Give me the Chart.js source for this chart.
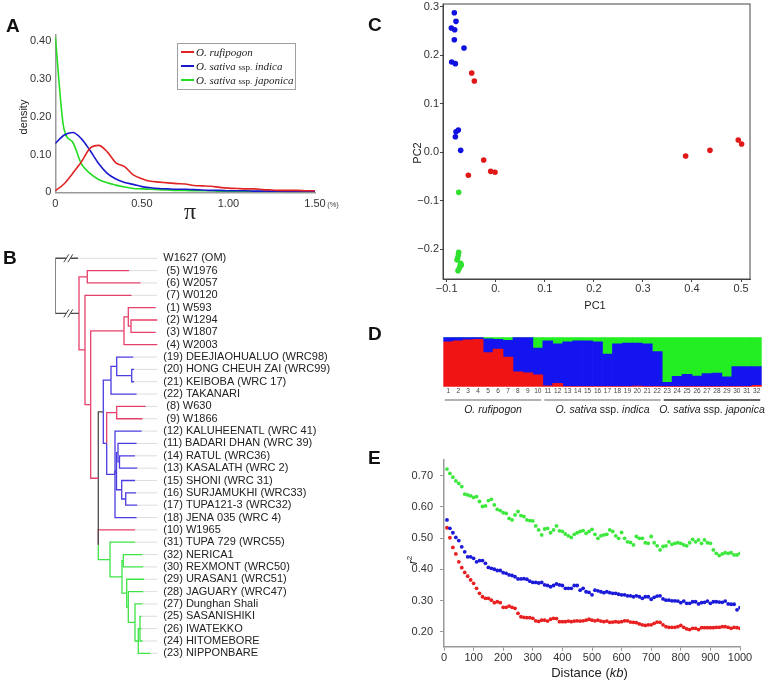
<!DOCTYPE html>
<html>
<head>
<meta charset="utf-8">
<title>Rice diversity figure</title>
<script src="https://cdn.jsdelivr.net/npm/chart.js@4.4.1/dist/chart.umd.min.js"></script>
<style>
html, body { margin: 0; padding: 0; background: #fff; }
#fig { position: relative; width: 767px; height: 682px; overflow: hidden; font-family: "Liberation Sans", Arial, Helvetica, sans-serif; color: #222; }
.panel { position: absolute; }
.letter { position: absolute; font-weight: bold; font-size: 19px; line-height: 1; color: #111; }
.lab { position: absolute; white-space: nowrap; line-height: 1; transform: translate(-50%, -50%); }
.lab.rot { transform: translate(-50%, -50%) rotate(-90deg); }
#legA { position: absolute; left: 177px; top: 43px; width: 117px; height: 45px; border: 1px solid #a0a0a0; font-family: "Liberation Serif", "Times New Roman", serif; font-size: 11px; color: #222; }
#legA .row { position: absolute; left: 3px; height: 12px; display: flex; align-items: center; white-space: nowrap; transform: translateY(-50%); }
#legA .sw { display: block; flex: none; width: 13px; height: 2px; margin-right: 2px; }
#legA .ssp { font-size: 9px; font-style: normal; }
</style>
</head>
<body>
<div id="fig">
  <div class="panel" style="left:0;top:25px;width:340px;height:200px"><canvas id="chartA"></canvas></div>
  <div class="panel" style="left:0;top:240px;width:380px;height:430px"><canvas id="chartB"></canvas></div>
  <div class="panel" style="left:380px;top:0;width:387px;height:320px"><canvas id="chartC"></canvas></div>
  <div class="panel" style="left:380px;top:325px;width:387px;height:95px"><canvas id="chartD"></canvas></div>
  <div class="panel" style="left:380px;top:440px;width:387px;height:242px"><canvas id="chartE"></canvas></div>

  <div class="letter" style="left:6px;top:15.5px">A</div>
  <div class="letter" style="left:3px;top:247.5px">B</div>
  <div class="letter" style="left:368px;top:14.5px">C</div>
  <div class="letter" style="left:368px;top:323.5px">D</div>
  <div class="letter" style="left:368px;top:447.5px">E</div>

  <!-- panel A texts -->
  <div class="lab rot" style="left:22.5px;top:117px;font-size:11px">density</div>
  <div class="lab" style="left:190px;top:210.5px;font-size:24px;font-family:'Liberation Serif','Times New Roman',serif">π</div>
  <div class="lab" style="left:333px;top:205px;font-size:7.5px;color:#444">(%)</div>
  <div id="legA">
    <div class="row" style="top:7.7px"><span class="sw" style="background:#e02424"></span><span><i>O. rufipogon</i></span></div>
    <div class="row" style="top:21.7px"><span class="sw" style="background:#1a1acc"></span><span><i>O. sativa</i> <span class="ssp">ssp.</span> <i>indica</i></span></div>
    <div class="row" style="top:36px"><span class="sw" style="background:#22dd22"></span><span><i>O. sativa</i> <span class="ssp">ssp.</span> <i>japonica</i></span></div>
  </div>

  <!-- panel C texts -->
  <div class="lab rot" style="left:417px;top:153px;font-size:11px">PC2</div>
  <div class="lab" style="left:595px;top:305px;font-size:11px">PC1</div>

  <!-- panel E texts -->
  <div class="lab rot" style="left:412px;top:560px;font-size:12px"><i>r</i><sup style="font-size:8px">2</sup></div>
  <div class="lab" style="left:589.5px;top:672px;font-size:13px">Distance (<i>kb</i>)</div>
</div>

<script>
// ---------- data ----------
// A: nucleotide diversity density
const piX = [0, 0.05, 0.10, 0.15, 0.20, 0.25, 0.30, 0.35, 0.40, 0.45, 0.50, 0.55, 0.60, 0.65, 0.70, 0.75,
  0.80, 0.85, 0.90, 0.95, 1.00, 1.05, 1.10, 1.15, 1.20, 1.25, 1.30, 1.35, 1.40, 1.45, 1.50];
const densRufipogon = [0.004, 0.022, 0.050, 0.080, 0.116, 0.124, 0.107, 0.078, 0.068, 0.046, 0.036, 0.029, 0.027, 0.025, 0.023, 0.022,
  0.018, 0.017, 0.016, 0.013, 0.011, 0.010, 0.009, 0.009, 0.007, 0.006, 0.005, 0.005, 0.005, 0.004, 0.004];
const densIndica = [0.129, 0.151, 0.158, 0.142, 0.111, 0.076, 0.050, 0.035, 0.026, 0.021, 0.015, 0.012, 0.010, 0.009, 0.008, 0.008,
  0.007, 0.006, 0.005, 0.005, 0.004, 0.004, 0.004, 0.003, 0.003, 0.003, 0.003, 0.002, 0.002, 0.002, 0.002];
const densJaponica = [0.411, 0.168, 0.133, 0.076, 0.050, 0.034, 0.025, 0.019, 0.014, 0.010, 0.009, 0.008, 0.007, 0.006, 0.005, 0.005,
  0.004, 0.004, 0.004, 0.003, 0.003, 0.003, 0.003, 0.002, 0.002, 0.002, 0.002, 0.002, 0.002, 0.002, 0.002];
const aTicksX = [0, 0.5, 1.0, 1.5];
const aLabelsX = ['0', '0.50', '1.00', '1.50'];
const aTicksY = [0, 0.1, 0.2, 0.3, 0.4];
const aLabelsY = ['0', '0.10', '0.20', '0.30', '0.40'];

// B: neighbour-joining tree
const leafNames = ['W1627 (OM)', ' (5) W1976', ' (6) W2057', ' (7) W0120', ' (1) W593', ' (2) W1294', ' (3) W1807', ' (4) W2003',
  '(19) DEEJIAOHUALUO (WRC98)', '(20) HONG CHEUH ZAI (WRC99)', '(21) KEIBOBA (WRC 17)', '(22) TAKANARI',
  ' (8) W630', ' (9) W1866', '(12) KALUHEENATL (WRC 41)', '(11) BADARI DHAN (WRC 39)', '(14) RATUL (WRC36)',
  '(13) KASALATH (WRC 2)', '(15) SHONI (WRC 31)', '(16) SURJAMUKHI (WRC33)', '(17) TUPA121-3 (WRC32)',
  '(18) JENA 035 (WRC 4)', '(10) W1965', '(31) TUPA 729 (WRC55)', '(32) NERICA1', '(30) REXMONT (WRC50)',
  '(29) URASAN1 (WRC51)', '(28) JAGUARY (WRC47)', '(27) Dunghan Shali', '(25) SASANISHIKI', '(26) IWATEKKO',
  '(24) HITOMEBORE', '(23) NIPPONBARE'];
const leafTip = [0.0227, 0.0737, 0.0854, 0.0764, 0.1004, 0.1047, 0.1004, 0.1047,
  0.0780, 0.0787, 0.0787, 0.0814, 0.0904, 0.0874, 0.0864, 0.0814, 0.0797, 0.0820, 0.0797, 0.0807, 0.0820, 0.0814,
  0.0797, 0.0797, 0.0874, 0.0880, 0.0890, 0.0880, 0.0874, 0.0864, 0.0864, 0.0874, 0.0954];
const leafGroup = ['o', 'r', 'r', 'r', 'r', 'r', 'r', 'r', 'b', 'b', 'b', 'b', 'r', 'r', 'b', 'b', 'b', 'b', 'b', 'b', 'b', 'b',
  'r', 'g', 'g', 'g', 'g', 'g', 'g', 'g', 'g', 'g', 'g'];
// [id, depth, group of the branch above, children]
const treeNodes = [
  ['root', 0, 'o', [0, 'P1']],
  ['P1', 0.0237, 'o', ['C56', 'P2']],
  ['C56', 0.0320, 'r', [1, 2]],
  ['P2', 0.0297, 'r', [3, 'P3']],
  ['P3', 0.0354, 'r', ['C1234', 'K']],
  ['C1234', 0.0687, 'r', ['C123', 7]],
  ['C123', 0.0730, 'r', [4, 'C23']],
  ['C23', 0.0757, 'r', [5, 6]],
  ['K', 0.0430, 'r', ['B0', 'L']],
  ['B0', 0.0480, 'o', ['I1', 'Z']],
  ['I1', 0.0557, 'b', ['I2', 11]],
  ['I2', 0.0614, 'b', [8, 'I3']],
  ['I3', 0.0764, 'b', [9, 10]],
  ['Z', 0.0514, 'b', ['C89', 'B1']],
  ['C89', 0.0614, 'r', [12, 13]],
  ['B1', 0.0597, 'b', [14, 'B2', 21]],
  ['B2', 0.0612, 'b', ['B3', 'B4']],
  ['B3', 0.0627, 'b', [15, 'B3b']],
  ['B3b', 0.0642, 'b', [16, 17]],
  ['B4', 0.0664, 'b', [18, 'B5']],
  ['B5', 0.0704, 'b', [19, 20]],
  ['L', 0.0430, 'o', [22, 'G1']],
  ['G1', 0.0547, 'g', [23, 'G2']],
  ['G2', 0.0667, 'g', ['G2a', 'G3']],
  ['G2a', 0.0680, 'g', [24, 25]],
  ['G3', 0.0714, 'g', [26, 'G4']],
  ['G4', 0.0730, 'g', [27, 'G5']],
  ['G5', 0.0797, 'g', [28, 'G6']],
  ['G6', 0.0830, 'g', ['G7', 32]],
  ['G7', 0.0847, 'g', [29, 30, 31]]
];
const treeBreakAt = 0.013;
const treeXMax = 0.102;

// C: PCA
const pc1Indica = [-0.0844, -0.0810, -0.0905, -0.0837, -0.0844, -0.0647, -0.0898, -0.0823, -0.0762, -0.0810, -0.0823, -0.0715];
const pc2Indica = [0.2876, 0.2698, 0.2560, 0.2526, 0.2320, 0.2148, 0.1860, 0.1827, 0.0459, 0.0424, 0.0321, 0.0040];
const pc1Rufi = [-0.0490, -0.0436, -0.0246, -0.0558, -0.0103, -0.0015, 0.3871, 0.4367, 0.4944, 0.5012];
const pc2Rufi = [0.1633, 0.1468, -0.0159, -0.0475, -0.0393, -0.0413, -0.0077, 0.0040, 0.0253, 0.0170];
const pc1Jap = [-0.0755, -0.0755, -0.0762, -0.0776, -0.0789, -0.0715, -0.0728, -0.0742, -0.0769, -0.0701];
const pc2Jap = [-0.0826, -0.2062, -0.2117, -0.2179, -0.2220, -0.2288, -0.2343, -0.2391, -0.2440, -0.2323];
const cTicksX = [-0.1, 0, 0.1, 0.2, 0.3, 0.4, 0.5];
const cLabelsX = ['\u22120.1', '0.', '0.1', '0.2', '0.3', '0.4', '0.5'];
const cTicksY = [-0.2, -0.1, 0, 0.1, 0.2, 0.3];
const cLabelsY = ['\u22120.2', '\u22120.1', '0.0', '0.1', '0.2', '0.3'];

// D: structure (K=3)
const dSamples = ['1', '2', '3', '4', '5', '6', '7', '8', '9', '10', '11', '12', '13', '14', '15', '16',
  '17', '18', '19', '20', '21', '22', '23', '24', '25', '26', '27', '28', '29', '30', '31', '32'];
const dRed = [0.91, 0.93, 0.95, 0.96, 0.69, 0.76, 0.60, 0.30, 0.28, 0.24, 0.02, 0.07, 0.01, 0.01, 0.01, 0.01,
  0.01, 0.01, 0.01, 0.015, 0.01, 0.01, 0.005, 0.005, 0.005, 0.005, 0.005, 0.005, 0.01, 0.01, 0.01, 0.03];
const dBlue = [0.09, 0.07, 0.05, 0.04, 0.28, 0.20, 0.34, 0.70, 0.72, 0.54, 0.91, 0.80, 0.90, 0.92, 0.92, 0.90,
  0.65, 0.86, 0.875, 0.87, 0.86, 0.70, 0.085, 0.205, 0.245, 0.21, 0.26, 0.27, 0.19, 0.395, 0.395, 0.375];
const dGreen = [0, 0, 0, 0, 0.03, 0.04, 0.06, 0, 0, 0.22, 0.07, 0.13, 0.09, 0.07, 0.07, 0.09,
  0.34, 0.13, 0.115, 0.115, 0.13, 0.29, 0.91, 0.79, 0.75, 0.785, 0.735, 0.725, 0.80, 0.595, 0.595, 0.595];
const dGroupLabels = ['O. rufipogon', 'O. sativa ssp. indica', 'O. sativa ssp. japonica'];
const dGroupEnds = [10, 22, 32];

// E: LD decay
const eDist = [10, 20, 30, 40, 50, 60, 70, 80, 90, 100, 110, 120, 130, 140, 150, 160, 170, 180, 190, 200,
  210, 220, 230, 240, 250, 260, 270, 280, 290, 300, 310, 320, 330, 340, 350, 360, 370, 380, 390, 400,
  410, 420, 430, 440, 450, 460, 470, 480, 490, 500, 510, 520, 530, 540, 550, 560, 570, 580, 590, 600,
  610, 620, 630, 640, 650, 660, 670, 680, 690, 700, 710, 720, 730, 740, 750, 760, 770, 780, 790, 800,
  810, 820, 830, 840, 850, 860, 870, 880, 890, 900, 910, 920, 930, 940, 950, 960, 970, 980, 990, 1000];
const r2Japonica = [0.721, 0.707, 0.695, 0.683, 0.675, 0.665, 0.641, 0.638, 0.635, 0.630,
  0.633, 0.617, 0.601, 0.603, 0.620, 0.624, 0.606, 0.592, 0.588, 0.581,
  0.579, 0.563, 0.558, 0.574, 0.585, 0.572, 0.569, 0.558, 0.556, 0.555,
  0.539, 0.526, 0.510, 0.529, 0.531, 0.517, 0.526, 0.539, 0.523, 0.521,
  0.513, 0.507, 0.502, 0.512, 0.517, 0.521, 0.524, 0.515, 0.521, 0.528,
  0.512, 0.499, 0.507, 0.510, 0.512, 0.526, 0.521, 0.507, 0.499, 0.518,
  0.499, 0.488, 0.486, 0.478, 0.505, 0.499, 0.499, 0.485, 0.483, 0.505,
  0.485, 0.475, 0.462, 0.473, 0.475, 0.488, 0.480, 0.483, 0.485, 0.483,
  0.478, 0.475, 0.485, 0.496, 0.488, 0.494, 0.483, 0.494, 0.485, 0.483,
  0.462, 0.451, 0.444, 0.449, 0.453, 0.451, 0.453, 0.446, 0.446, 0.451];
const r2Indica = [0.558, 0.531, 0.517, 0.502, 0.492, 0.472, 0.456, 0.440, 0.440, 0.435,
  0.424, 0.428, 0.428, 0.419, 0.406, 0.403, 0.400, 0.396, 0.396, 0.389,
  0.387, 0.382, 0.380, 0.376, 0.369, 0.369, 0.370, 0.368, 0.362, 0.358,
  0.358, 0.356, 0.358, 0.350, 0.348, 0.344, 0.348, 0.353, 0.350, 0.348,
  0.339, 0.339, 0.339, 0.348, 0.348, 0.333, 0.339, 0.328, 0.326, 0.318,
  0.333, 0.331, 0.328, 0.325, 0.328, 0.325, 0.323, 0.323, 0.320, 0.318,
  0.318, 0.315, 0.315, 0.312, 0.315, 0.312, 0.307, 0.312, 0.312, 0.304,
  0.310, 0.314, 0.315, 0.305, 0.301, 0.301, 0.299, 0.299, 0.298, 0.293,
  0.298, 0.291, 0.291, 0.296, 0.296, 0.289, 0.293, 0.294, 0.298, 0.291,
  0.296, 0.296, 0.295, 0.294, 0.298, 0.289, 0.288, 0.288, 0.270, 0.277];
const r2Rufipogon = [0.533, 0.501, 0.470, 0.449, 0.424, 0.405, 0.390, 0.378, 0.366, 0.355,
  0.339, 0.323, 0.312, 0.307, 0.307, 0.301, 0.293, 0.296, 0.293, 0.278,
  0.278, 0.282, 0.278, 0.275, 0.259, 0.248, 0.246, 0.245, 0.245, 0.243,
  0.235, 0.233, 0.237, 0.237, 0.234, 0.240, 0.243, 0.242, 0.232, 0.232,
  0.232, 0.234, 0.232, 0.234, 0.235, 0.234, 0.235, 0.237, 0.240, 0.237,
  0.235, 0.237, 0.234, 0.232, 0.234, 0.230, 0.231, 0.232, 0.231, 0.232,
  0.235, 0.235, 0.231, 0.230, 0.229, 0.225, 0.222, 0.220, 0.222, 0.222,
  0.227, 0.231, 0.230, 0.222, 0.216, 0.214, 0.214, 0.214, 0.216, 0.220,
  0.214, 0.209, 0.207, 0.211, 0.211, 0.207, 0.213, 0.213, 0.213, 0.213,
  0.213, 0.214, 0.214, 0.216, 0.216, 0.214, 0.211, 0.214, 0.213, 0.211];
const eTicksX = [0, 100, 200, 300, 400, 500, 600, 700, 800, 900, 1000];
const eLabelsX = ['0', '100', '200', '300', '400', '500', '600', '700', '800', '900', '1000'];
const eTicksY = [0.2, 0.3, 0.4, 0.5, 0.6, 0.7];
const eLabelsY = ['0.20', '0.30', '0.40', '0.50', '0.60', '0.70'];

// ---------- helpers ----------
Chart.defaults.font.family = '"Liberation Sans", Arial, Helvetica, sans-serif';
Chart.defaults.font.size = 11;
Chart.defaults.color = '#222';
Chart.defaults.animation = false;
Chart.defaults.responsive = true;
Chart.defaults.maintainAspectRatio = false;
Chart.defaults.plugins.legend.display = false;
Chart.defaults.plugins.tooltip.enabled = false;

// fixed axis thickness so the plot areas line up with the figure
function fitTo(size) {
  return function (s) {
    if (s.isHorizontal()) s.height = size; else s.width = size;
    s.paddingLeft = s.paddingRight = s.paddingTop = s.paddingBottom = 0;
  };
}
function setTicks(values) {
  return function (s) { s.ticks = values.map(v => ({ value: v })); };
}
function pairs(xs, ys) {
  return xs.map((x, i) => ({ x: x, y: ys[i] }));
}
function drawRuns(ctx, runs, cx, cy, size) {
  ctx.save();
  ctx.textBaseline = 'middle';
  ctx.textAlign = 'left';
  ctx.fillStyle = '#222';
  const fonts = runs.map(r => r[1] + ' ' + size + 'px "Liberation Sans", Arial, sans-serif');
  let w = 0;
  runs.forEach((r, i) => { ctx.font = fonts[i]; w += ctx.measureText(r[0]).width; });
  let x = cx - w / 2;
  runs.forEach((r, i) => { ctx.font = fonts[i]; ctx.fillText(r[0], x, cy); x += ctx.measureText(r[0]).width; });
  ctx.restore();
}

// ---------- A ----------
new Chart(document.getElementById('chartA'), {
  type: 'line',
  data: {
    datasets: [
      { label: 'O. rufipogon', data: pairs(piX, densRufipogon), borderColor: '#e02424' },
      { label: 'O. sativa ssp. indica', data: pairs(piX, densIndica), borderColor: '#1a1acc' },
      { label: 'O. sativa ssp. japonica', data: pairs(piX, densJaponica), borderColor: '#22dd22' }
    ]
  },
  options: {
    layout: { padding: { left: 0, top: 10, right: 25, bottom: 0 } },
    elements: { point: { radius: 0 }, line: { borderWidth: 1.6, cubicInterpolationMode: 'monotone' } },
    scales: {
      x: {
        type: 'linear', min: 0, max: 1.5,
        afterBuildTicks: setTicks(aTicksX), afterFit: fitTo(32.7),
        ticks: { callback: (v, i) => aLabelsX[i], padding: 5, maxRotation: 0, color: '#333' },
        grid: { display: false, drawTicks: false },
        border: { color: '#999', width: 1.5 }
      },
      y: {
        min: 0, max: 0.416,
        afterBuildTicks: setTicks(aTicksY), afterFit: fitTo(55.3),
        ticks: { callback: (v, i) => aLabelsY[i], padding: 4, color: '#333' },
        grid: { display: false, drawTicks: false },
        border: { color: '#999', width: 1.5 }
      }
    }
  }
});

// ---------- B ----------
const nodeMap = {};
treeNodes.forEach(n => { nodeMap[n[0]] = n; });
function yOf(c) {
  if (typeof c === 'number') return c;
  const kids = nodeMap[c][3];
  return (yOf(kids[0]) + yOf(kids[kids.length - 1])) / 2;
}
function depthOf(c) { return typeof c === 'number' ? leafTip[c] : nodeMap[c][1]; }
function groupOf(c) { return typeof c === 'number' ? leafGroup[c] : nodeMap[c][2]; }
const groupColor = { o: '#4a4a4a', r: '#e6406a', b: '#4a3ce0', g: '#3de445' };

const treeSets = [];
leafNames.forEach((name, i) => {
  treeSets.push({ data: [{ x: leafTip[i], y: i }, { x: treeXMax, y: i }], borderColor: '#d4d4d4', borderWidth: 0.8 });
});
treeNodes.forEach(([id, d, g, kids]) => {
  const yn = yOf(id);
  kids.forEach(c => {
    const yc = yOf(c);
    treeSets.push({
      data: [{ x: d, y: yn }, { x: d, y: yc }, { x: depthOf(c), y: yc }],
      borderColor: groupColor[groupOf(c)], borderWidth: 1.3
    });
  });
});
treeSets.forEach(s => { s.showLine = true; s.pointRadius = 0; s.borderJoinStyle = 'miter'; });

const breakMarks = {
  id: 'breakMarks',
  afterDatasetsDraw(chart) {
    const { ctx, scales: { x, y } } = chart;
    const px = x.getPixelForValue(treeBreakAt);
    ctx.save();
    [0, 'P1'].forEach(c => {
      const py = y.getPixelForValue(yOf(c));
      ctx.fillStyle = '#fff';
      ctx.fillRect(px - 2, py - 2, 4, 4);
      ctx.strokeStyle = '#444';
      ctx.lineWidth = 1;
      [-2, 2].forEach(dx => {
        ctx.beginPath();
        ctx.moveTo(px + dx - 2.5, py + 4);
        ctx.lineTo(px + dx + 2.5, py - 4);
        ctx.stroke();
      });
    });
    ctx.restore();
  }
};

new Chart(document.getElementById('chartB'), {
  type: 'scatter',
  data: { datasets: treeSets },
  options: {
    layout: { padding: { left: 55.3, top: 12.1, right: 0, bottom: 10.5 } },
    scales: {
      x: { type: 'linear', min: 0, max: treeXMax, display: false },
      y: {
        type: 'linear', position: 'right', reverse: true, min: -0.5, max: leafNames.length - 0.5,
        afterBuildTicks: s => { s.ticks = leafNames.map((n, i) => ({ value: i })); },
        afterFit: fitTo(222.7),
        ticks: { callback: v => leafNames[v], autoSkip: false, padding: 6, color: '#222', font: { size: 11 } },
        grid: { display: false, drawTicks: false },
        border: { display: false }
      }
    }
  },
  plugins: [breakMarks]
});

// ---------- C ----------
const frameBox = {
  id: 'frameBox',
  afterDraw(chart) {
    const a = chart.chartArea, ctx = chart.ctx;
    ctx.save();
    ctx.strokeStyle = '#444';
    ctx.lineWidth = 1;
    ctx.strokeRect(a.left, a.top, a.right - a.left, a.bottom - a.top);
    ctx.restore();
  }
};
new Chart(document.getElementById('chartC'), {
  type: 'scatter',
  data: {
    datasets: [
      { data: pairs(pc1Indica, pc2Indica), backgroundColor: '#1010e0' },
      { data: pairs(pc1Rufi, pc2Rufi), backgroundColor: '#e01818' },
      { data: pairs(pc1Jap, pc2Jap), backgroundColor: '#30e030' }
    ]
  },
  options: {
    layout: { padding: { left: 0, top: 4, right: 17, bottom: 5 } },
    elements: { point: { radius: 2.8, borderWidth: 0 } },
    scales: {
      x: {
        type: 'linear', min: -0.1075, max: 0.5183,
        afterBuildTicks: setTicks(cTicksX), afterFit: fitTo(36),
        ticks: { callback: (v, i) => cLabelsX[i], padding: 0, maxRotation: 0, color: '#333' },
        grid: { drawOnChartArea: false, tickLength: 3, color: '#444' },
        border: { color: '#444', width: 1 }
      },
      y: {
        min: -0.2612, max: 0.3056,
        afterBuildTicks: setTicks(cTicksY), afterFit: fitTo(63),
        ticks: { callback: (v, i) => cLabelsY[i], padding: 1, color: '#333' },
        grid: { drawOnChartArea: false, tickLength: 3, color: '#444' },
        border: { color: '#444', width: 1 }
      }
    }
  },
  plugins: [frameBox]
});

// ---------- D ----------
const groupLines = {
  id: 'groupLines',
  afterDraw(chart) {
    const { ctx, chartArea, scales: { x } } = chart;
    const half = (chartArea.right - chartArea.left) / dSamples.length / 2;
    const lineColors = ['#999', '#999', '#333'];
    let start = 0;
    dGroupEnds.forEach((end, g) => {
      const x0 = x.getPixelForTick(start) - half + 1.5;
      const x1 = x.getPixelForTick(end - 1) + half - 1.5;
      ctx.save();
      ctx.strokeStyle = lineColors[g];
      ctx.lineWidth = 1.5;
      ctx.beginPath();
      ctx.moveTo(x0, chartArea.bottom + 13.3);
      ctx.lineTo(x1, chartArea.bottom + 13.3);
      ctx.stroke();
      ctx.restore();
      const parts = dGroupLabels[g].split(' ssp. ');
      const runs = parts.length > 1
        ? [[parts[0], 'italic'], [' ssp. ', 'normal'], [parts[1], 'italic']]
        : [[parts[0], 'italic']];
      drawRuns(ctx, runs, (x0 + x1) / 2, chartArea.bottom + 23.3, 10.5);
      start = end;
    });
  }
};
new Chart(document.getElementById('chartD'), {
  type: 'bar',
  data: {
    labels: dSamples,
    datasets: [
      { data: dRed, backgroundColor: '#f01414' },
      { data: dBlue, backgroundColor: '#1414f0' },
      { data: dGreen, backgroundColor: '#22ee22' }
    ]
  },
  options: {
    layout: { padding: { left: 63.3, top: 12.3, right: 5.3, bottom: 25.3 } },
    datasets: { bar: { barPercentage: 1, categoryPercentage: 1, borderWidth: 0 } },
    scales: {
      x: {
        stacked: true, afterFit: fitTo(8),
        ticks: { autoSkip: false, maxRotation: 0, padding: 1, color: '#444', font: { size: 6.5 } },
        grid: { display: false, drawTicks: false },
        border: { display: false }
      },
      y: { stacked: true, min: 0, max: 1, display: false }
    }
  },
  plugins: [groupLines]
});

// ---------- E ----------
new Chart(document.getElementById('chartE'), {
  type: 'scatter',
  data: {
    datasets: [
      { data: pairs(eDist, r2Japonica), backgroundColor: '#3de83d' },
      { data: pairs(eDist, r2Indica), backgroundColor: '#1a1ad8' },
      { data: pairs(eDist, r2Rufipogon), backgroundColor: '#e82020' }
    ]
  },
  options: {
    layout: { padding: { left: 0, top: 20, right: 27, bottom: 2 } },
    elements: { point: { radius: 1.9, borderWidth: 0 } },
    scales: {
      x: {
        type: 'linear', min: 0, max: 1000,
        afterBuildTicks: setTicks(eTicksX), afterFit: fitTo(33.3),
        ticks: { callback: (v, i) => eLabelsX[i], padding: 1, maxRotation: 0, color: '#333' },
        grid: { drawOnChartArea: false, tickLength: 4, color: '#999' },
        border: { color: '#999', width: 1.5 }
      },
      y: {
        min: 0.152, max: 0.750,
        afterBuildTicks: setTicks(eTicksY), afterFit: fitTo(64),
        ticks: { callback: (v, i) => eLabelsY[i], padding: 7, color: '#333' },
        grid: { drawOnChartArea: false, tickLength: 4, color: '#999' },
        border: { color: '#999', width: 1.5 }
      }
    }
  }
});
</script>
</body>
</html>
